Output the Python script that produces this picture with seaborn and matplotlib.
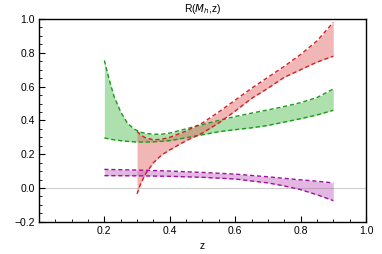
import numpy as np
import seaborn as sns
import matplotlib.pyplot as plt
from matplotlib.ticker import MultipleLocator

# green band (z from 0.2)
z_green = [0.20, 0.215, 0.23, 0.25, 0.27, 0.29, 0.31, 0.33, 0.35, 0.375, 0.40,
           0.45, 0.50, 0.55, 0.60, 0.65, 0.70, 0.75, 0.80, 0.85, 0.90]
green_hi = [0.755, 0.64, 0.54, 0.45, 0.385, 0.35, 0.33, 0.322, 0.318, 0.318, 0.325,
            0.350, 0.375, 0.400, 0.423, 0.443, 0.462, 0.482, 0.505, 0.535, 0.586]
green_lo = [0.296, 0.290, 0.285, 0.280, 0.276, 0.273, 0.272, 0.272, 0.273, 0.276, 0.280,
            0.297, 0.315, 0.333, 0.345, 0.356, 0.370, 0.390, 0.410, 0.432, 0.460]

# red band (z from 0.3)
z_red = [0.30, 0.31, 0.325, 0.35, 0.375, 0.40, 0.45, 0.50, 0.55, 0.60,
         0.65, 0.70, 0.75, 0.80, 0.85, 0.90]
red_hi = [0.335, 0.315, 0.298, 0.285, 0.288, 0.300, 0.337, 0.385, 0.450, 0.520,
          0.590, 0.655, 0.720, 0.790, 0.870, 0.980]
red_lo = [-0.035, 0.020, 0.080, 0.150, 0.195, 0.225, 0.280, 0.325, 0.385, 0.455,
          0.530, 0.590, 0.655, 0.700, 0.745, 0.780]

# purple band
z_purple = [0.2, 0.3, 0.4, 0.5, 0.6, 0.7, 0.75, 0.8, 0.85, 0.9]
purple_hi = [0.110, 0.106, 0.100, 0.092, 0.082, 0.066, 0.057, 0.048, 0.040, 0.030]
purple_lo = [0.073, 0.072, 0.069, 0.063, 0.053, 0.030, 0.012, -0.010, -0.040, -0.075]

sns.set_style("ticks")
plt.rcParams['font.family'] = ['Liberation Sans', 'DejaVu Sans']
plt.rcParams['text.color'] = 'black'
plt.rcParams['xtick.color'] = 'black'
plt.rcParams['ytick.color'] = 'black'
plt.rcParams['axes.labelcolor'] = 'black'

fig = plt.figure(figsize=(3.82, 2.54), dpi=100)
ax = fig.add_axes([0.102, 0.127, 0.856, 0.798])

ax.axhline(0, color='#cccccc', lw=0.8, zorder=0)

bands = [
    (z_green, green_hi, green_lo, '#1a9a1a', '#4cbb4c'),
    (z_red, red_hi, red_lo, '#d42020', '#e06060'),
    (z_purple, purple_hi, purple_lo, '#a010a0', '#c060c0'),
]
for z, hi, lo, line_col, fill_col in bands:
    ax.fill_between(z, lo, hi, color=fill_col, alpha=0.45, lw=0)
    for y in (hi, lo):
        sns.lineplot(x=z, y=y, ax=ax, color=line_col, lw=1.0,
                     linestyle=(0, (3, 2)), sort=False)

ax.set_xlim(0, 1)
ax.set_ylim(-0.2, 1.0)
ax.xaxis.set_minor_locator(MultipleLocator(0.05))
ax.yaxis.set_minor_locator(MultipleLocator(0.05))
ax.set_xticks([0.2, 0.4, 0.6, 0.8, 1.0])
ax.set_xticklabels(['0.2', '0.4', '0.6', '0.8', '1.0'])
ax.set_yticks([-0.2, 0.0, 0.2, 0.4, 0.6, 0.8, 1.0])
ax.set_yticklabels(['\u22120.2', '0.0', '0.2', '0.4', '0.6', '0.8', '1.0'])
ax.tick_params(which='major', direction='in', length=4, width=0.8,
               labelsize=7.5, pad=3, top=False, right=False, colors='black')
ax.tick_params(which='minor', direction='in', length=2, width=0.6,
               top=False, right=False, colors='black')
for s in ax.spines.values():
    s.set_linewidth(1.0)
    s.set_color('black')

ax.set_title(r'R($M_h$,z)', fontsize=7.5, pad=5, color='black')
ax.set_xlabel('z', fontsize=7.5, labelpad=4)
ax.set_ylabel('')

fig.savefig('out.png', dpi=100)
